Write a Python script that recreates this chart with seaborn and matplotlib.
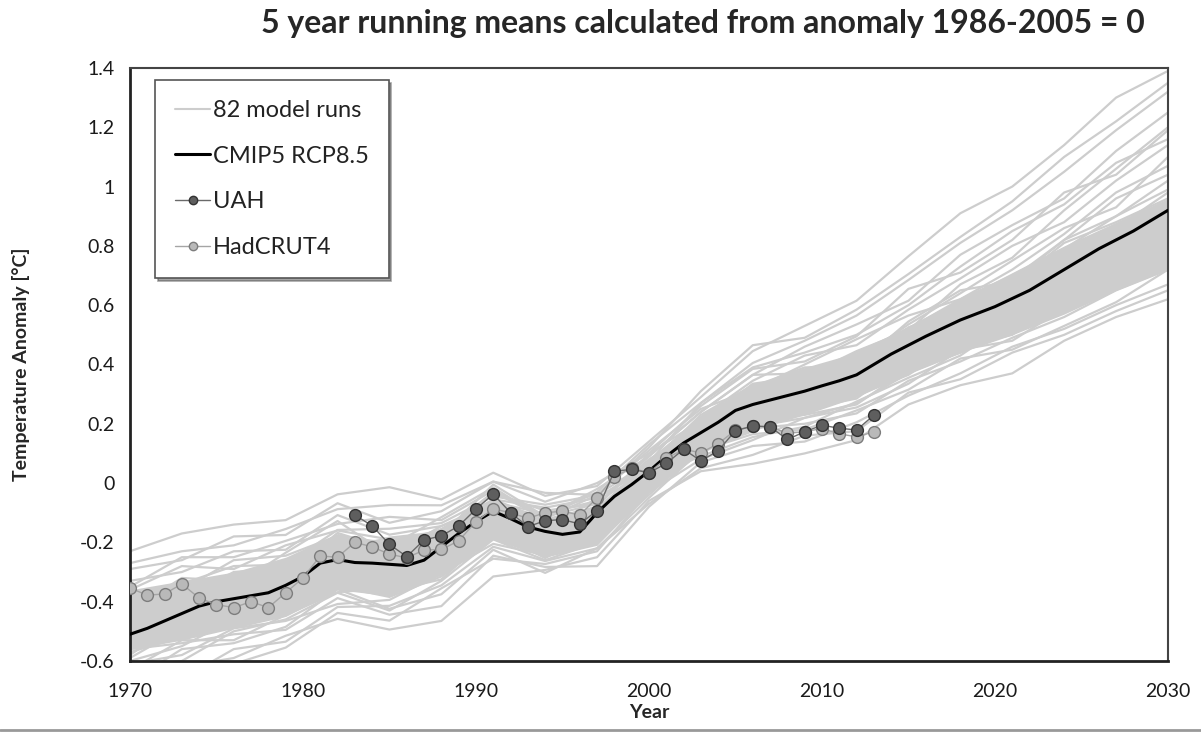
import numpy as np
import pandas as pd
import matplotlib
matplotlib.use("Agg")
import matplotlib.pyplot as plt
import seaborn as sns
from matplotlib.lines import Line2D
from matplotlib.ticker import FuncFormatter, MultipleLocator

# ---- data ----
run_years = [1970, 1973, 1976, 1979, 1982, 1985, 1988, 1991, 1994, 1997, 2000,
             2003, 2006, 2009, 2012, 2015, 2018, 2021, 2024, 2027, 2030]

# a sample of the model-run spaghetti (5 yr running means)
model_runs = [
    [-0.23, -0.17, -0.14, -0.125, -0.038, -0.014, -0.055, 0.035, -0.043, -0.01, 0.14, 0.29, 0.445, 0.53, 0.615, 0.765, 0.91, 1.0, 1.14, 1.30, 1.39],
    [-0.29, -0.26, -0.18, -0.175, -0.068, -0.134, -0.095, 0.005, -0.033, -0.04, 0.12, 0.31, 0.465, 0.49, 0.585, 0.705, 0.83, 0.95, 1.10, 1.22, 1.35],
    [-0.35, -0.25, -0.25, -0.195, -0.138, -0.114, -0.125, -0.025, -0.113, -0.02, 0.09, 0.24, 0.365, 0.46, 0.535, 0.615, 0.77, 0.87, 0.96, 1.12, 1.25],
    [-0.39, -0.36, -0.26, -0.245, -0.178, -0.214, -0.115, -0.015, -0.123, -0.08, 0.10, 0.26, 0.385, 0.41, 0.495, 0.655, 0.71, 0.82, 0.98, 1.04, 1.19],
    [-0.65, -0.62, -0.59, -0.515, -0.458, -0.494, -0.465, -0.315, -0.293, -0.25, -0.06, 0.04, 0.065, 0.10, 0.145, 0.265, 0.33, 0.37, 0.48, 0.56, 0.62],
    [-0.56, -0.54, -0.51, -0.495, -0.388, -0.444, -0.415, -0.245, -0.283, -0.28, -0.08, 0.07, 0.125, 0.14, 0.205, 0.295, 0.37, 0.46, 0.52, 0.60, 0.67],
    [-0.46, -0.42, -0.32, -0.315, -0.168, -0.224, -0.195, -0.055, -0.163, -0.05, 0.06, 0.15, 0.265, 0.34, 0.425, 0.505, 0.57, 0.67, 0.81, 0.88, 0.96],
    [-0.53, -0.41, -0.42, -0.325, -0.298, -0.274, -0.175, -0.115, -0.133, -0.13, 0.03, 0.21, 0.235, 0.26, 0.345, 0.405, 0.51, 0.54, 0.66, 0.72, 0.84],
    [-0.43, -0.32, -0.33, -0.265, -0.228, -0.184, -0.165, -0.035, -0.093, -0.07, 0.08, 0.19, 0.325, 0.39, 0.395, 0.545, 0.65, 0.68, 0.82, 0.96, 1.04],
    [-0.59, -0.49, -0.48, -0.405, -0.338, -0.314, -0.285, -0.145, -0.223, -0.14, -0.01, 0.10, 0.215, 0.23, 0.265, 0.385, 0.44, 0.53, 0.60, 0.72, 0.78],
    [-0.51, -0.48, -0.37, -0.375, -0.248, -0.334, -0.235, -0.085, -0.203, -0.10, 0.01, 0.17, 0.295, 0.31, 0.325, 0.445, 0.49, 0.59, 0.65, 0.77, 0.82],
    [-0.33, -0.30, -0.23, -0.225, -0.108, -0.174, -0.145, -0.065, -0.103, -0.06, 0.04, 0.22, 0.345, 0.43, 0.465, 0.585, 0.69, 0.80, 0.88, 1.02, 1.14],
    [-0.61, -0.58, -0.49, -0.465, -0.408, -0.394, -0.305, -0.205, -0.243, -0.19, -0.03, 0.13, 0.185, 0.20, 0.235, 0.345, 0.41, 0.49, 0.56, 0.65, 0.72],
    [-0.48, -0.37, -0.39, -0.295, -0.218, -0.264, -0.245, -0.095, -0.183, -0.09, 0.07, 0.22, 0.285, 0.29, 0.365, 0.485, 0.54, 0.62, 0.75, 0.82, 0.94],
    [-0.55, -0.51, -0.44, -0.435, -0.308, -0.364, -0.325, -0.165, -0.253, -0.16, -0.02, 0.14, 0.205, 0.27, 0.295, 0.365, 0.48, 0.51, 0.62, 0.69, 0.80],
    [-0.71, -0.66, -0.56, -0.535, -0.418, -0.414, -0.345, -0.215, -0.263, -0.22, -0.05, 0.11, 0.165, 0.18, 0.245, 0.315, 0.42, 0.45, 0.53, 0.61, 0.72],
    [-0.41, -0.39, -0.30, -0.285, -0.198, -0.194, -0.175, -0.005, -0.113, -0.03, 0.13, 0.27, 0.405, 0.48, 0.565, 0.685, 0.81, 0.92, 1.05, 1.19, 1.32],
    [-0.63, -0.53, -0.53, -0.445, -0.368, -0.354, -0.265, -0.185, -0.213, -0.17, 0.0, 0.11, 0.175, 0.25, 0.315, 0.425, 0.47, 0.56, 0.67, 0.74, 0.86],
    [-0.45, -0.34, -0.28, -0.275, -0.158, -0.154, -0.135, -0.045, -0.073, -0.04, 0.11, 0.25, 0.315, 0.40, 0.485, 0.565, 0.62, 0.72, 0.84, 0.98, 1.07],
    [-0.58, -0.46, -0.45, -0.355, -0.278, -0.354, -0.255, -0.125, -0.233, -0.20, -0.04, 0.12, 0.245, 0.25, 0.285, 0.415, 0.46, 0.50, 0.62, 0.68, 0.76],
    [-0.67, -0.56, -0.54, -0.485, -0.358, -0.424, -0.375, -0.225, -0.303, -0.22, -0.07, 0.05, 0.095, 0.16, 0.175, 0.305, 0.35, 0.44, 0.50, 0.58, 0.65],
    [-0.37, -0.34, -0.35, -0.235, -0.128, -0.244, -0.155, -0.055, -0.083, -0.05, 0.05, 0.20, 0.335, 0.36, 0.445, 0.515, 0.67, 0.76, 0.92, 1.06, 1.20],
    [-0.52, -0.47, -0.40, -0.395, -0.328, -0.304, -0.215, -0.135, -0.173, -0.12, 0.06, 0.15, 0.225, 0.28, 0.315, 0.435, 0.50, 0.58, 0.64, 0.78, 0.85],
    [-0.27, -0.23, -0.21, -0.155, -0.088, -0.074, -0.075, 0.005, -0.063, 0.0, 0.10, 0.21, 0.285, 0.36, 0.395, 0.525, 0.59, 0.69, 0.82, 0.90, 1.02],
    [-0.68, -0.64, -0.61, -0.555, -0.438, -0.464, -0.355, -0.255, -0.273, -0.23, -0.03, 0.08, 0.145, 0.22, 0.255, 0.335, 0.45, 0.48, 0.59, 0.66, 0.74],
    [-0.49, -0.45, -0.35, -0.345, -0.278, -0.244, -0.145, -0.075, -0.113, -0.07, 0.09, 0.24, 0.365, 0.37, 0.415, 0.535, 0.64, 0.75, 0.86, 0.93, 1.10],
    [-0.60, -0.55, -0.46, -0.425, -0.348, -0.384, -0.315, -0.185, -0.193, -0.15, 0.02, 0.09, 0.155, 0.19, 0.275, 0.355, 0.43, 0.55, 0.63, 0.70, 0.81],
    [-0.42, -0.40, -0.36, -0.305, -0.258, -0.234, -0.215, -0.095, -0.143, -0.11, 0.02, 0.18, 0.305, 0.33, 0.365, 0.495, 0.60, 0.65, 0.77, 0.86, 0.98],
    [-0.44, -0.43, -0.34, -0.33, -0.20, -0.30, -0.20, -0.07, -0.15, -0.09, 0.06, 0.23, 0.33, 0.35, 0.44, 0.52, 0.62, 0.70, 0.79, 0.90, 0.99],
    [-0.57, -0.52, -0.43, -0.38, -0.32, -0.34, -0.28, -0.16, -0.21, -0.17, 0.0, 0.16, 0.24, 0.29, 0.33, 0.40, 0.52, 0.60, 0.69, 0.76, 0.88],
    [-0.36, -0.28, -0.29, -0.21, -0.16, -0.19, -0.17, -0.03, -0.12, -0.04, 0.07, 0.27, 0.39, 0.44, 0.50, 0.60, 0.73, 0.85, 0.94, 1.08, 1.16],
    [-0.62, -0.60, -0.50, -0.46, -0.37, -0.43, -0.33, -0.19, -0.26, -0.20, -0.02, 0.12, 0.19, 0.22, 0.27, 0.37, 0.44, 0.52, 0.58, 0.67, 0.75],
]

# densest part of the 82-run ensemble
core_low = [-0.56, -0.53, -0.49, -0.45, -0.36, -0.38, -0.31, -0.19, -0.25, -0.21, -0.03,
            0.10, 0.18, 0.23, 0.29, 0.37, 0.44, 0.50, 0.57, 0.65, 0.72]
core_high = [-0.36, -0.33, -0.30, -0.25, -0.17, -0.20, -0.15, -0.05, -0.12, -0.08, 0.08,
             0.23, 0.33, 0.39, 0.44, 0.53, 0.62, 0.71, 0.80, 0.88, 0.96]

mean_years = list(range(1970, 2013)) + [2014, 2016, 2018, 2020, 2022, 2024, 2026, 2028, 2030]
cmip5_mean = [-0.51, -0.49, -0.465, -0.44, -0.415, -0.40, -0.39, -0.38, -0.37, -0.345,
              -0.315, -0.27, -0.258, -0.268, -0.27, -0.274, -0.278, -0.26, -0.215, -0.17,
              -0.13, -0.095, -0.12, -0.148, -0.163, -0.173, -0.165, -0.10, -0.045, -0.005,
              0.04, 0.09, 0.135, 0.17, 0.205, 0.245, 0.265, 0.28, 0.295, 0.31,
              0.328, 0.345, 0.365,
              0.435, 0.495, 0.55, 0.595, 0.65, 0.72, 0.79, 0.85, 0.92]

uah_years = list(range(1983, 2014))
uah = [-0.108, -0.144, -0.207, -0.248, -0.192, -0.178, -0.145, -0.088, -0.037, -0.10,
       -0.147, -0.127, -0.123, -0.138, -0.093, 0.04, 0.046, 0.035, 0.066, 0.114,
       0.075, 0.109, 0.177, 0.192, 0.19, 0.147, 0.173, 0.195, 0.185, 0.179, 0.229]

had_years = list(range(1970, 2014))
hadcrut4 = [-0.354, -0.378, -0.374, -0.34, -0.388, -0.41, -0.42, -0.40, -0.42, -0.37,
            -0.32, -0.246, -0.25, -0.20, -0.215, -0.24, -0.252, -0.226, -0.224, -0.195,
            -0.13, -0.087, -0.10, -0.119, -0.10, -0.095, -0.108, -0.05, 0.022, 0.05,
            0.035, 0.083, 0.114, 0.102, 0.133, 0.178, 0.192, 0.19, 0.168, 0.173,
            0.184, 0.166, 0.156, 0.173]

legend_labels = ["82 model runs", "CMIP5 RCP8.5", "UAH", "HadCRUT4"]

# ---- plot ----
sns.set_theme(style="white")
plt.rcParams['font.family'] = ['Lato', 'DejaVu Sans']

runs_df = pd.DataFrame(
    [(i, y, v) for i, run in enumerate(model_runs) for y, v in zip(run_years, run)],
    columns=["run", "year", "anomaly"])

fig = plt.figure(figsize=(12.01, 7.34), dpi=100)
ax = fig.add_axes([0.1082, 0.0995, 0.8643, 0.8079])

RUN_GREY = '#cdcdcd'
ax.fill_between(run_years, core_low, core_high, color=RUN_GREY, lw=0, zorder=1)
sns.lineplot(data=runs_df, x="year", y="anomaly", units="run", estimator=None,
             color=RUN_GREY, lw=1.6, ax=ax, zorder=2)

sns.lineplot(x=mean_years, y=cmip5_mean, color='black', lw=2.2, ax=ax, zorder=3)

ax.plot(had_years, hadcrut4, color='#a5a5a5', lw=1.0, marker='o', ms=8.5,
        mfc='#b9b9b9', mec='#7d7d7d', mew=1.0, zorder=4)
ax.plot(uah_years, uah, color='#6a6a6a', lw=1.0, marker='o', ms=8.5,
        mfc='#5e5e5e', mec='#333333', mew=1.0, zorder=5)

ax.set_xlim(1970, 2030)
ax.set_ylim(-0.6, 1.4)
ax.xaxis.set_major_locator(MultipleLocator(10))
ax.yaxis.set_major_locator(MultipleLocator(0.2))
ax.yaxis.set_major_formatter(FuncFormatter(lambda v, p: f"{round(v, 1):g}" if abs(v) > 1e-9 else "0"))
ax.tick_params(axis='both', direction='out', length=7, width=1.5, color='black',
               labelsize=14, labelcolor='#1a1a1a')
ax.tick_params(axis='x', pad=9)
ax.tick_params(axis='y', pad=4)

for side in ['left', 'bottom']:
    ax.spines[side].set_color('#222222')
    ax.spines[side].set_linewidth(2)
for side in ['top', 'right']:
    ax.spines[side].set_color('#444444')
    ax.spines[side].set_linewidth(1.5)

ax.set_xlabel("Year", fontsize=14, fontweight='bold', labelpad=3)
ax.set_ylabel("Temperature Anomaly [°C]", fontsize=14, fontweight='bold', labelpad=36)
fig.suptitle("5 year running means calculated from anomaly 1986-2005 = 0",
             x=0.585, y=0.988, fontsize=23, fontweight='bold')

handles = [
    Line2D([0], [0], color=RUN_GREY, lw=1.5),
    Line2D([0], [0], color='black', lw=2.2),
    Line2D([0], [0], color='#6a6a6a', lw=1.0, marker='o', ms=6, mfc='#5e5e5e', mec='#333333'),
    Line2D([0], [0], color='#a5a5a5', lw=1.0, marker='o', ms=6, mfc='#b9b9b9', mec='#7d7d7d'),
]
leg = ax.legend(handles, legend_labels, loc='upper left', bbox_to_anchor=(0.024, 0.98),
                fontsize=17, frameon=True, fancybox=False, shadow=True,
                handlelength=1.5, handletextpad=0.1, labelspacing=1.05,
                borderpad=0.85, borderaxespad=0.0)
leg.get_frame().set_edgecolor('#555555')
leg.get_frame().set_linewidth(1.2)
leg.set_zorder(10)
for t in leg.get_texts():
    t.set_color('#222222')

fig.add_artist(Line2D([0, 1], [0.006, 0.006], color='#999999', lw=2, transform=fig.transFigure))

fig.savefig("out.png", dpi=100, facecolor='white')
